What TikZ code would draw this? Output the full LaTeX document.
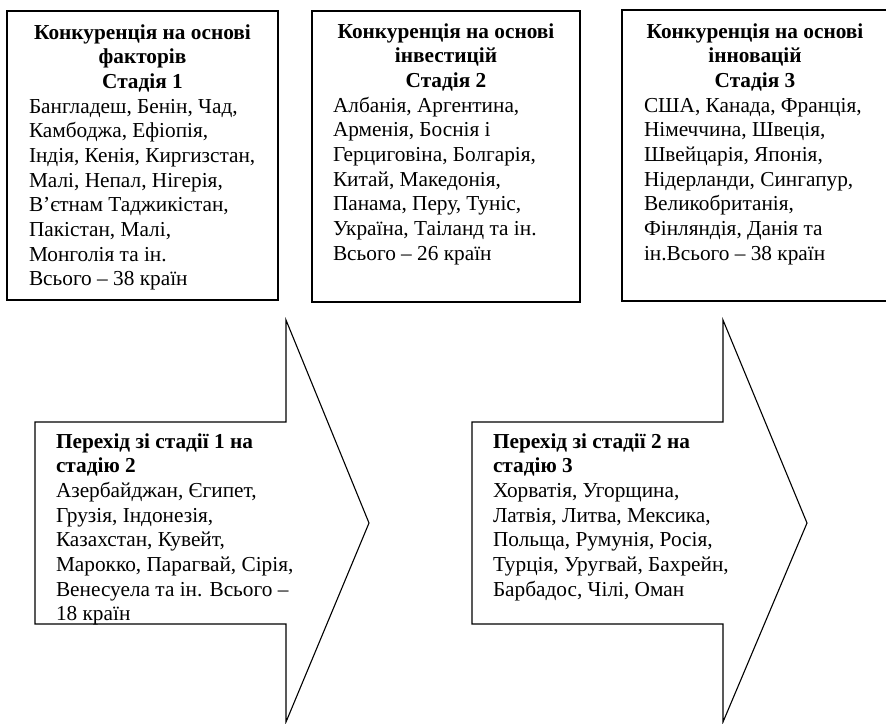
\documentclass[tikz,border=0pt]{standalone}
\usepackage{fontspec}
\setmainfont{Liberation Serif}
\newcommand{\myfs}{\fontsize{21.3}{24.7}\selectfont}
\tikzset{
  stagebox/.style={draw=black, line width=1.6pt},
  arrowshape/.style={draw=black, line width=1.1pt, line join=miter, fill=white},
  headtxt/.style={anchor=base, inner sep=0pt, outer sep=0pt},
  bodytxt/.style={anchor=base west, inner sep=0pt, outer sep=0pt}
}
\newcommand{\headpar}[1]{\parbox[t]{262pt}{\centering\bfseries\myfs #1}}
\newcommand{\bodypar}[1]{\parbox[t]{262pt}{\raggedright\myfs #1}}
\begin{document}
\begin{tikzpicture}[x=1pt,y=-1pt]
\path[use as bounding box, fill=white] (0,0) rectangle (886,723);

% top boxes
\draw[stagebox] (7,11) rectangle (278,300);
\draw[stagebox] (312,11) rectangle (580,302);
\draw[stagebox] (622,10) rectangle (892,301);

\node[headtxt] (h1) at (142.5,39) {\headpar{Конкуренція на основі\\факторів\\Стадія 1}};
\node[bodytxt] (t1) at (29,113) {\bodypar{Бангладеш, Бенін, Чад,\\Камбоджа, Ефіопія,\\Індія, Кенія, Киргизстан,\\Малі, Непал, Нігерія,\\В’єтнам Таджикістан,\\Пакістан, Малі,\\Монголія та ін.\\Всього – 38 країн}};

\node[headtxt] (h2) at (446,38) {\headpar{Конкуренція на основі\\інвестицій\\Стадія 2}};
\node[bodytxt] (t2) at (333,112) {\bodypar{Албанія, Аргентина,\\Арменія, Боснія і\\Герциговіна, Болгарія,\\Китай, Македонія,\\Панама, Перу, Туніс,\\Україна, Таіланд та ін.\\Всього – 26 країн}};

\node[headtxt] (h3) at (755,38) {\headpar{Конкуренція на основі\\інновацій\\Стадія 3}};
\node[bodytxt] (t3) at (644,112) {\bodypar{США, Канада, Франція,\\Німеччина, Швеція,\\Швейцарія, Японія,\\Нідерланди, Сингапур,\\Великобританія,\\Фінляндія, Данія та\\ін.Всього – 38 країн}};

% arrows
\draw[arrowshape] (35,422) -- (286,422) -- (286,320) -- (369,523) -- (286,722) -- (286,624) -- (35,624) -- cycle;
\draw[arrowshape] (472,422) -- (723,422) -- (723,320) -- (807,523) -- (723,722) -- (723,624) -- (472,624) -- cycle;

\begin{scope}
\clip (35,422) -- (286,422) -- (286,320) -- (369,523) -- (286,722) -- (286,624) -- (35,624) -- cycle;
\node[bodytxt] (a1) at (56,448) {\bodypar{\textbf{Перехід зі стадії 1 на}\\\textbf{стадію 2}\\Азербайджан, Єгипет,\\Грузія, Індонезія,\\Казахстан, Кувейт,\\Марокко, Парагвай, Сірія,\\Венесуела та ін. Всього –\\18 країн}};
\end{scope}

\node[bodytxt] (a2) at (493,448) {\bodypar{\textbf{Перехід зі стадії 2 на}\\\textbf{стадію 3}\\Хорватія, Угорщина,\\Латвія, Литва, Мексика,\\Польща, Румунія, Росія,\\Турція, Уругвай, Бахрейн,\\Барбадос, Чілі, Оман}};
\end{tikzpicture}
\end{document}
